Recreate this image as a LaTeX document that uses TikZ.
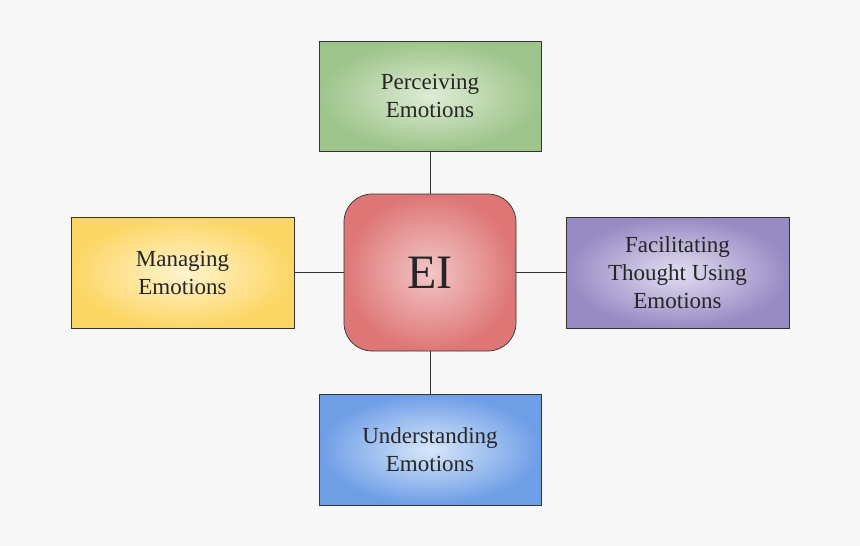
\documentclass[tikz,border=0pt]{standalone}
\usepackage{fontspec}
\setmainfont{Liberation Serif}
\begin{document}
\begin{tikzpicture}[x=1pt,y=-1pt,
  box/.style={draw=black!80,line width=0.7pt,align=center,font=\fontsize{23}{28}\selectfont,text=black!85,shading=radial},
  link/.style={draw=black!80,line width=0.8pt}]
\fill[black!3] (0,0) rectangle (860,546);
\useasboundingbox (0,0) rectangle (860,546);
\node[box,minimum width=222,minimum height=110,outer color={rgb,255:red,157;green,196;blue,138},inner color={rgb,255:red,222;green,236;blue,213}] (p) at (430,96) {Perceiving\\Emotions};
\node[box,rounded corners=28,minimum width=172,minimum height=157,font=\fontsize{48}{52}\selectfont,outer color={rgb,255:red,222;green,118;blue,118},inner color={rgb,255:red,243;green,198;blue,198}] (ei) at (430,272.5) {EI};
\node[box,minimum width=223,minimum height=111,outer color={rgb,255:red,252;green,214;blue,100},inner color={rgb,255:red,255;green,243;blue,206}] (m) at (182.5,272.5) {Managing\\Emotions};
\node[box,minimum width=223,minimum height=111,outer color={rgb,255:red,152;green,138;blue,196},inner color={rgb,255:red,226;green,222;blue,240}] (f) at (677.5,272.5) {Facilitating\\Thought Using\\Emotions};
\node[box,minimum width=222,minimum height=111,outer color={rgb,255:red,110;green,158;blue,230},inner color={rgb,255:red,216;green,230;blue,250}] (u) at (430,449.5) {Understanding\\Emotions};
\draw[link] (p) -- (ei);
\draw[link] (ei) -- (u);
\draw[link] (m) -- (ei);
\draw[link] (ei) -- (f);
\end{tikzpicture}
\end{document}
